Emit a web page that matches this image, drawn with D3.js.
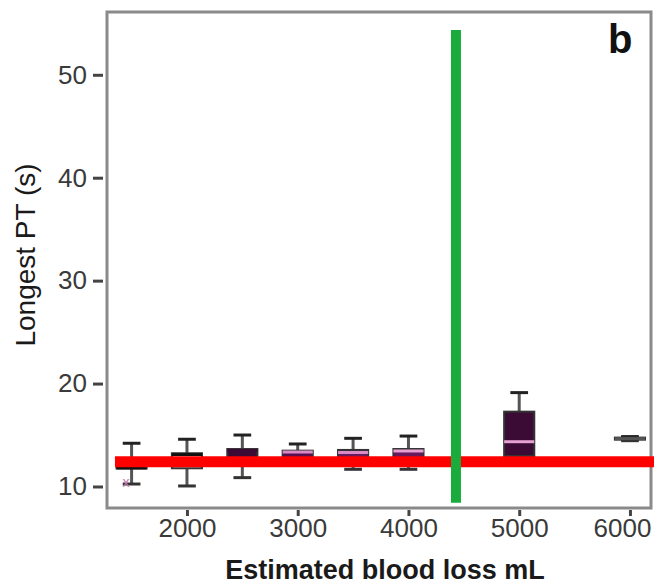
<!DOCTYPE html>
<html>
<head>
<meta charset="utf-8">
<script src="https://cdn.jsdelivr.net/npm/d3@7"></script>
<style>
  body { margin: 0; background: #fff; }
  svg { display: block; font-family: "Liberation Sans", Arial, sans-serif; }
</style>
</head>
<body>
<div class="chart"></div>
<script>
// blood loss groups (mL) and box stats
var groups   = [1500, 2000, 2500, 3000, 3500, 4000, 5000, 6000];
var whiskLo  = [10.24, 10.05, 10.86, 12.2, 11.67, 11.67, 12.5, 14.45];
var q1       = [11.75, 11.77, 12.3, 12.6, 12.4, 12.3, 12.96, 14.55];
var median   = [11.8, 13.1, 13.5, 13.35, 13.3, 13.45, 14.35, 14.65];
var q3       = [12.6, 13.23, 13.64, 13.48, 13.55, 13.64, 17.27, 14.75];
var whiskHi  = [14.2, 14.59, 15.0, 14.13, 14.68, 14.9, 19.12, 14.85];
var boxFill  = ["#ffffff", "#ffffff", "#3b0a35", "#5a1050", "#6a1a5c", "#6a1a5c", "#3b0a35", "#9a9a9a"];
var medColor = ["#111111", "#111111", "#3b0a35", "#d98ac4", "#d98ac4", "#e6a0d2", "#e6a0d2", "#555555"];

// stray points (pink)
var ptX = [1450];
var ptY = [10.45];

// reference lines
var refPT = 12.41;     // horizontal red line
var refLoss = 4429;    // vertical green line

var xTicks = [2000, 3000, 4000, 5000, 6000];
var yTicks = [10, 20, 30, 40, 50];

var W = 654, H = 586;
var margin = {left: 107, top: 12, right: 3, bottom: 78};
var pw = W - margin.left - margin.right, ph = H - margin.top - margin.bottom;

var svg = d3.select(".chart").append("svg").attr("width", W).attr("height", H);
var g = svg.append("g").attr("transform", "translate(" + margin.left + "," + margin.top + ")");

var x = d3.scaleLinear().domain([1278, 6190]).range([0, pw]);
var y = d3.scaleLinear().domain([7.91, 56.1]).range([ph, 0]);
var halfBox = 136, halfCap = 80;

// frame
g.append("rect").attr("x", 0).attr("y", 0).attr("width", pw).attr("height", ph)
  .attr("fill", "none").attr("stroke", "#8a8a8a").attr("stroke-width", 3);

// axes
var yAxis = g.append("g").call(d3.axisLeft(y).tickValues(yTicks).tickSize(10).tickPadding(6));
var xAxis = g.append("g").attr("transform", "translate(0," + ph + ")")
  .call(d3.axisBottom(x).tickValues(xTicks).tickSize(6).tickPadding(5).tickFormat(d3.format("d")));
[yAxis, xAxis].forEach(a => {
  a.select(".domain").remove();
  a.selectAll(".tick line").attr("stroke", "#444").attr("stroke-width", 3);
  a.selectAll(".tick text").attr("fill", "#3a3a3a").attr("font-size", 26);
});
yAxis.selectAll(".tick line").attr("transform", "translate(-4,0)");
yAxis.selectAll(".tick text").attr("x", -20);
xAxis.selectAll(".tick line").attr("transform", "translate(0,2)");
// last label sits against the right edge, as in the original
xAxis.selectAll(".tick text").filter(d => d === 6000).attr("text-anchor", "end").attr("dx", 21);

// boxes
var boxes = groups.map((v, i) => ({v: v, lo: whiskLo[i], q1: q1[i], md: median[i], q3: q3[i], hi: whiskHi[i], fill: boxFill[i], mc: medColor[i]}));
var bx = g.append("g").selectAll("g").data(boxes).enter().append("g");
bx.append("line")
  .attr("x1", d => x(d.v)).attr("x2", d => x(d.v))
  .attr("y1", d => y(d.hi)).attr("y2", d => y(d.lo))
  .attr("stroke", "#555").attr("stroke-width", 3);
bx.append("line")
  .attr("x1", d => x(d.v - halfCap)).attr("x2", d => x(d.v + halfCap))
  .attr("y1", d => y(d.hi)).attr("y2", d => y(d.hi))
  .attr("stroke", "#222").attr("stroke-width", 3);
bx.append("line")
  .attr("x1", d => x(d.v - halfCap)).attr("x2", d => x(d.v + halfCap))
  .attr("y1", d => y(d.lo)).attr("y2", d => y(d.lo))
  .attr("stroke", "#333").attr("stroke-width", 3);
bx.append("rect")
  .attr("x", d => x(d.v - halfBox)).attr("width", d => x(d.v + halfBox) - x(d.v - halfBox))
  .attr("y", d => y(d.q3)).attr("height", d => y(d.q1) - y(d.q3))
  .attr("fill", d => d.fill).attr("stroke", "#333").attr("stroke-width", 2);
bx.append("line")
  .attr("x1", d => x(d.v - halfBox)).attr("x2", d => x(d.v + halfBox))
  .attr("y1", d => y(d.md)).attr("y2", d => y(d.md))
  .attr("stroke", d => d.mc).attr("stroke-width", 3);

// stray points
g.append("g").selectAll("text").data(ptX).enter().append("text")
  .attr("x", (d, i) => x(d)).attr("y", (d, i) => y(ptY[i]) + 5)
  .attr("text-anchor", "middle").attr("font-size", 14).attr("fill", "#c27ab0")
  .text("x");

// reference lines
g.append("line")
  .attr("x1", x(1350)).attr("x2", W)
  .attr("y1", y(refPT)).attr("y2", y(refPT))
  .attr("stroke", "#ff0000").attr("stroke-width", 11);
g.append("line")
  .attr("x1", x(refLoss)).attr("x2", x(refLoss))
  .attr("y1", y(54.36)).attr("y2", y(8.43))
  .attr("stroke", "#1aab3c").attr("stroke-width", 10);

// panel letter
g.append("text").attr("x", 501).attr("y", 41)
  .attr("font-size", 40).attr("font-weight", "bold").attr("fill", "#111").text("b");

// axis titles
svg.append("text").attr("x", 385).attr("y", 579).attr("text-anchor", "middle")
  .attr("font-size", 27).attr("font-weight", "bold").attr("fill", "#1a1a1a")
  .text("Estimated blood loss mL");
svg.append("text").attr("transform", "translate(35,255) rotate(-90)").attr("text-anchor", "middle")
  .attr("font-size", 28).attr("fill", "#1a1a1a")
  .text("Longest PT (s)");
</script>
</body>
</html>
